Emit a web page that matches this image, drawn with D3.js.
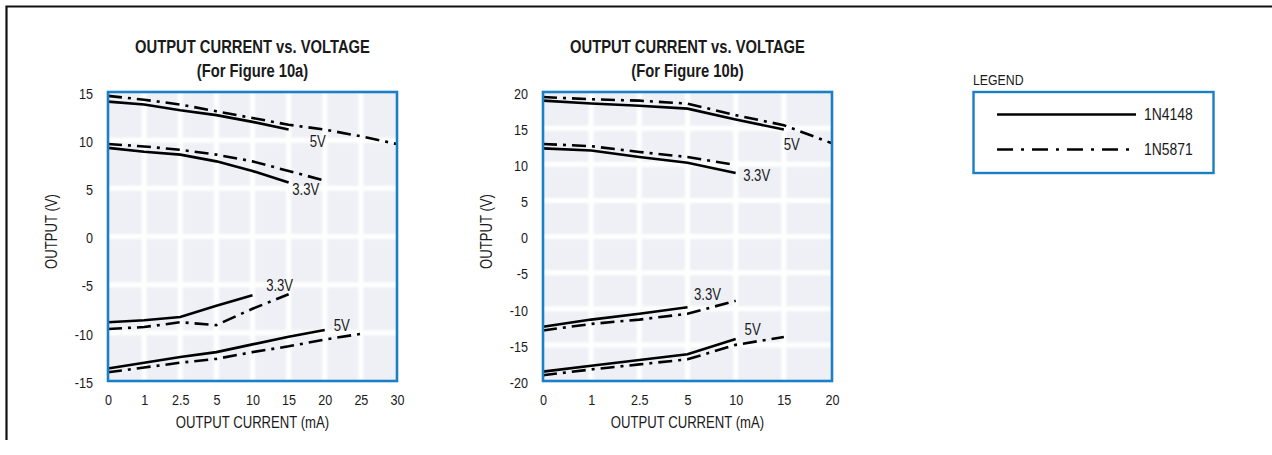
<!DOCTYPE html>
<html>
<head>
<meta charset="utf-8">
<script src="https://cdn.jsdelivr.net/npm/d3@7"></script>
<style>
    body { margin: 0; background: #fff; }
    text { font-family: "Liberation Sans", Arial, sans-serif; fill: #1a1a1a; }
</style>
</head>
<body>
<script>
// figure 10a: output current (mA) categories and output voltages
var currentA = ['0', '1', '2.5', '5', '10', '15', '20', '25', '30'];
var voltTicksA = [-15, -10, -5, 0, 5, 10, 15];
var posA5v4148 = [14.0, 13.7, 13.1, 12.6, 11.9, 11.1];
var posA5v5871 = [14.6, 14.2, 13.7, 13.0, 12.3, 11.6, 11.1, 10.4, 9.6];
var posA33v4148 = [9.2, 8.8, 8.5, 7.8, 6.8, 5.6];
var posA33v5871 = [9.6, 9.35, 9.0, 8.5, 7.8, 6.8, 5.8];
var negA33v4148 = [-8.9, -8.7, -8.35, -7.2, -6.1];
var negA33v5871 = [-9.6, -9.4, -8.9, -9.2, -7.5, -6.0];
var negA5v4148 = [-13.7, -13.1, -12.5, -12.0, -11.2, -10.4, -9.7];
var negA5v5871 = [-14.1, -13.6, -13.1, -12.7, -12.0, -11.4, -10.7, -10.1];

// figure 10b
var currentB = ['0', '1', '2.5', '5', '10', '15', '20'];
var voltTicksB = [-20, -15, -10, -5, 0, 5, 10, 15, 20];
var posB5v4148 = [18.8, 18.4, 18.1, 17.7, 16.2, 14.8];
var posB5v5871 = [19.3, 19.0, 18.8, 18.4, 16.8, 15.4, 12.9];
var posB33v4148 = [12.2, 11.9, 11.0, 10.2, 8.8];
var posB33v5871 = [12.8, 12.5, 11.7, 11.0, 9.9];
var negB33v4148 = [-12.5, -11.5, -10.7, -9.8];
var negB33v5871 = [-13.0, -12.1, -11.5, -10.7, -8.9];
var negB5v4148 = [-18.7, -17.9, -17.1, -16.3, -14.2];
var negB5v5871 = [-19.2, -18.4, -17.7, -17.0, -15.0, -13.9];

var diodes = ['1N4148', '1N5871'];

var BLUE = '#1b7fc6';
var DASH = '14,6,3,6';

var svg = d3.select('body').append('svg').attr('width', 1272).attr('height', 455);

var defs = svg.append('defs');
defs.append('filter').attr('id', 'soft').append('feGaussianBlur').attr('stdDeviation', 0.9);

// outer frame (only top and left edges show)
svg.append('path')
    .attr('d', 'M6.5,440V6.5H1272')
    .attr('fill', 'none')
    .attr('stroke', '#111')
    .attr('stroke-width', 2.2);

function drawChart(opt) {
    var size = 289;
    var x = d3.scalePoint().domain(opt.cats).range([opt.left, opt.left + size]);
    var y = d3.scaleLinear().domain(opt.yDomain).range([opt.top + size, opt.top]);
    var g = svg.append('g');

    g.append('rect')
        .attr('x', opt.left).attr('y', opt.top)
        .attr('width', size).attr('height', size)
        .attr('fill', '#eef0f6');

    var grid = g.append('g').attr('filter', 'url(#soft)');
    grid.selectAll('.vg').data(opt.cats.slice(1, -1)).enter().append('line')
        .attr('x1', function(d) { return x(d); }).attr('x2', function(d) { return x(d); })
        .attr('y1', opt.top).attr('y2', opt.top + size)
        .attr('stroke', '#fff').attr('stroke-width', 5);
    grid.selectAll('.hg').data(opt.yTicks.slice(1, -1)).enter().append('line')
        .attr('y1', function(d) { return y(d); }).attr('y2', function(d) { return y(d); })
        .attr('x1', opt.left).attr('x2', opt.left + size)
        .attr('stroke', '#fff').attr('stroke-width', 5);

    var line = d3.line()
        .x(function(d, i) { return x(opt.cats[i]); })
        .y(function(d) { return y(d); });

    g.selectAll('.curve').data(opt.series).enter().append('path')
        .attr('d', function(s) { return line(s.values); })
        .attr('fill', 'none')
        .attr('stroke', '#000')
        .attr('stroke-width', 2.6)
        .attr('stroke-dasharray', function(s) { return s.dashed ? DASH : null; });

    g.append('rect')
        .attr('x', opt.left).attr('y', opt.top)
        .attr('width', size).attr('height', size)
        .attr('fill', 'none')
        .attr('stroke', BLUE).attr('stroke-width', 2.6);

    g.selectAll('.lbl').data(opt.labels).enter().append('text')
        .attr('x', function(d) { return x(d.cat) + d.dx; })
        .attr('y', function(d) { return y(d.v); })
        .attr('text-anchor', 'middle')
        .attr('dominant-baseline', 'central')
        .style('font-size', '16px')
        .text(function(d) { return d.text; });

    var xAxis = g.append('g')
        .attr('transform', 'translate(0,' + (opt.top + size) + ')')
        .call(d3.axisBottom(x).tickSize(0).tickPadding(13));
    var yAxis = g.append('g')
        .attr('transform', 'translate(' + opt.left + ',0)')
        .call(d3.axisLeft(y).tickValues(opt.yTicks).tickSize(0).tickPadding(15)
            .tickFormat(function(d) { return String(d); }));
    [xAxis, yAxis].forEach(function(a) {
        a.select('.domain').remove();
        a.attr('font-family', null).attr('font-size', null);
        a.selectAll('text')
            .attr('fill', '#1a1a1a')
            .attr('data-squeeze', 0.84)
            .style('font-size', '15px');
    });
    yAxis.selectAll('text').attr('dy', '0.42em');

    g.append('text')
        .attr('x', opt.left + size / 2).attr('y', 428)
        .attr('text-anchor', 'middle')
        .style('font-size', '16px')
        .text('OUTPUT CURRENT (mA)');
    g.append('text')
        .attr('transform', 'translate(' + (opt.left - 51) + ',' + (opt.top + size / 2 - 5) + ') rotate(-90)')
        .attr('text-anchor', 'middle')
        .style('font-size', '16px')
        .text('OUTPUT (V)');

    g.selectAll('.title').data(opt.title).enter().append('text')
        .attr('x', opt.left + size / 2)
        .attr('y', function(d, i) { return 53 + i * 23.5; })
        .attr('text-anchor', 'middle')
        .style('font-size', '18px')
        .style('font-weight', 'bold')
        .text(function(d) { return d; });
}

drawChart({
    left: 108, top: 92,
    cats: currentA,
    yDomain: [-15, 15],
    yTicks: voltTicksA,
    title: ['OUTPUT CURRENT vs. VOLTAGE', '(For Figure 10a)'],
    series: [
        { values: posA5v4148, dashed: false },
        { values: posA5v5871, dashed: true },
        { values: posA33v4148, dashed: false },
        { values: posA33v5871, dashed: true },
        { values: negA33v4148, dashed: false },
        { values: negA33v5871, dashed: true },
        { values: negA5v4148, dashed: false },
        { values: negA5v5871, dashed: true }
    ],
    labels: [
        { text: '5V', cat: '20', dx: -7, v: 9.9 },
        { text: '3.3V', cat: '20', dx: -19, v: 4.85 },
        { text: '3.3V', cat: '15', dx: -9, v: -5.1 },
        { text: '5V', cat: '20', dx: 17, v: -9.2 }
    ]
});

drawChart({
    left: 543, top: 92,
    cats: currentB,
    yDomain: [-20, 20],
    yTicks: voltTicksB,
    title: ['OUTPUT CURRENT vs. VOLTAGE', '(For Figure 10b)'],
    series: [
        { values: posB5v4148, dashed: false },
        { values: posB5v5871, dashed: true },
        { values: posB33v4148, dashed: false },
        { values: posB33v5871, dashed: true },
        { values: negB33v4148, dashed: false },
        { values: negB33v5871, dashed: true },
        { values: negB5v4148, dashed: false },
        { values: negB5v5871, dashed: true }
    ],
    labels: [
        { text: '5V', cat: '15', dx: 8, v: 12.7 },
        { text: '3.3V', cat: '10', dx: 21, v: 8.4 },
        { text: '3.3V', cat: '5', dx: 20, v: -8.0 },
        { text: '5V', cat: '10', dx: 17, v: -12.9 }
    ]
});

// legend
var legend = svg.append('g');
legend.append('text')
    .attr('x', 973).attr('y', 85)
    .style('font-size', '15px')
    .text('LEGEND');
legend.append('rect')
    .attr('x', 973.5).attr('y', 92)
    .attr('width', 240).attr('height', 81)
    .attr('fill', '#fff')
    .attr('stroke', BLUE).attr('stroke-width', 2.4);
var items = legend.selectAll('.item').data(diodes).enter().append('g')
    .attr('transform', function(d, i) { return 'translate(0,' + (114.5 + i * 35) + ')'; });
items.append('line')
    .attr('x1', 997).attr('x2', 1136)
    .attr('stroke', '#000').attr('stroke-width', 2.6)
    .attr('stroke-dasharray', function(d, i) { return i ? '16,8,3,8' : null; });
items.append('text')
    .attr('x', 1144)
    .attr('dominant-baseline', 'central')
    .style('font-size', '17px')
    .text(function(d) { return d; });

// no narrow face installed: squeeze every label to a condensed width
svg.selectAll('text').each(function() {
    var el = d3.select(this);
    var k = +(el.attr('data-squeeze') || 0.82);
    el.attr('textLength', (this.getComputedTextLength() * k).toFixed(1))
        .attr('lengthAdjust', 'spacingAndGlyphs');
});
</script>
</body>
</html>
